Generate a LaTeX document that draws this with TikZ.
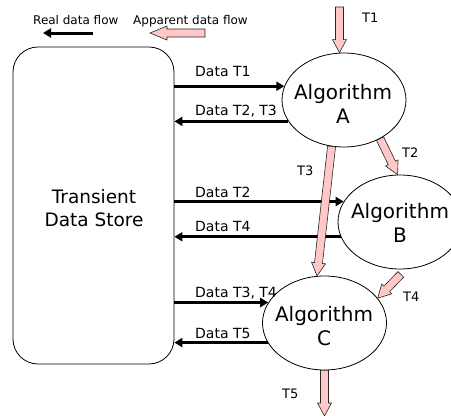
\documentclass[tikz,border=0pt]{standalone}
\usepackage{fontspec}
\setmainfont{DejaVu Sans}
\usetikzlibrary{calc,arrows.meta,shapes.geometric}
\definecolor{pinkfill}{RGB}{255,200,200}
\tikzset{
  storebox/.style={draw, rounded corners=25pt, line width=0.8pt, minimum width=161pt, minimum height=317pt, inner sep=0pt},
  storetext/.style={align=center, inner sep=0pt, font=\fontsize{18.5}{23}\selectfont},
  algo/.style={draw, ellipse, minimum width=124pt, minimum height=94pt, inner sep=0pt, line width=0.8pt},
  algotext/.style={align=center, inner sep=0pt, font=\fontsize{20}{24}\selectfont},
  lbl/.style={anchor=base west, inner sep=0pt, font=\fontsize{14}{16}\selectfont},
  tlbl/.style={anchor=base west, inner sep=0pt, font=\fontsize{13}{15}\selectfont},
  legendtext/.style={anchor=base west, inner sep=0pt, font=\fontsize{12}{14}\selectfont},
  realflow/.style={line width=3pt, -{Triangle[length=8pt,width=9pt]}},
  apparent/.style={draw=black!85, fill=pinkfill, line width=0.6pt, line join=miter}
}
\newcommand\pinkarrow[3][13pt]{%
  \coordinate (pa-h) at ($(#3)!#1!(#2)$);
  \filldraw[apparent] ($(#2)!4pt!90:(#3)$) -- ($(pa-h)!4pt!90:(#3)$) -- ($(pa-h)!7pt!90:(#3)$) -- (#3)
    -- ($(pa-h)!7pt!-90:(#3)$) -- ($(pa-h)!4pt!-90:(#3)$) -- ($(#2)!4pt!-90:(#3)$) -- cycle;}
\begin{document}
\begin{tikzpicture}[x=1pt,y=-1pt]
\useasboundingbox (0,0) rectangle (451,416);
% legend
\node[legendtext] (lreal) at (33,24) {Real data flow};
\node[legendtext] (lapp) at (133,24) {Apparent data flow};
\coordinate (lr1) at (93,33);
\coordinate (lr2) at (43,33);
\draw[realflow] (lr1) -- (lr2);
\coordinate (la1) at (205,33);
\coordinate (la2) at (150,33);
\pinkarrow[17pt]{la1}{la2}
% store
\node[storebox] (store) at (93.5,205.5) {};
\node[storetext] (storelbl) at (94,208) {Transient\\Data Store};
% algorithms
\node[algo] (A) at (344,100) {};
\node[algotext] (Atext) at (343,104) {Algorithm\\A};
\node[algo] (B) at (400,222) {};
\node[algotext] (Btext) at (400,223) {Algorithm\\B};
\node[algo] (C) at (324.5,323) {};
\node[algotext] (Ctext) at (324,326) {Algorithm\\C};
% real flows
\draw[realflow] (store.east |- A.167.7) -- (A.167.7);
\draw[realflow] (A.201.9) -- (store.east |- A.201.9);
\draw[realflow] (store.east |- B.160.4) -- (B.160.4);
\draw[realflow] (B.194.3) -- (store.east |- B.194.3);
\draw[realflow] (store.east |- C.160.6) -- (C.160.6);
\draw[realflow] (C.199.4) -- (store.east |- C.199.4);
\node[lbl] (l1) at (195,76) {Data T1};
\node[lbl] (l2) at (195,115) {Data T2, T3};
\node[lbl] (l3) at (195,197) {Data T2};
\node[lbl] (l4) at (195,231) {Data T4};
\node[lbl] (l5) at (195,297) {Data T3, T4};
\node[lbl] (l6) at (195,338) {Data T5};
% apparent flows
\coordinate (t1s) at (339.5,7);
\coordinate (bottom) at (0,416);
\coordinate (t4s) at ([yshift=-5pt]B.-89);
\pinkarrow{t1s}{t1s |- A.north}
\pinkarrow{A.255}{C.99}
\pinkarrow{A.-47}{B.93}
\pinkarrow{t4s}{C.25}
\pinkarrow{C.south}{C.south |- bottom}
\node[tlbl] (tl1) at (362,22) {T1};
\node[tlbl] (tl3) at (297,175) {T3};
\node[tlbl] (tl2) at (402,157) {T2};
\node[tlbl] (tl4) at (403,301) {T4};
\node[tlbl] (tl5) at (282,398) {T5};
\end{tikzpicture}
\end{document}
